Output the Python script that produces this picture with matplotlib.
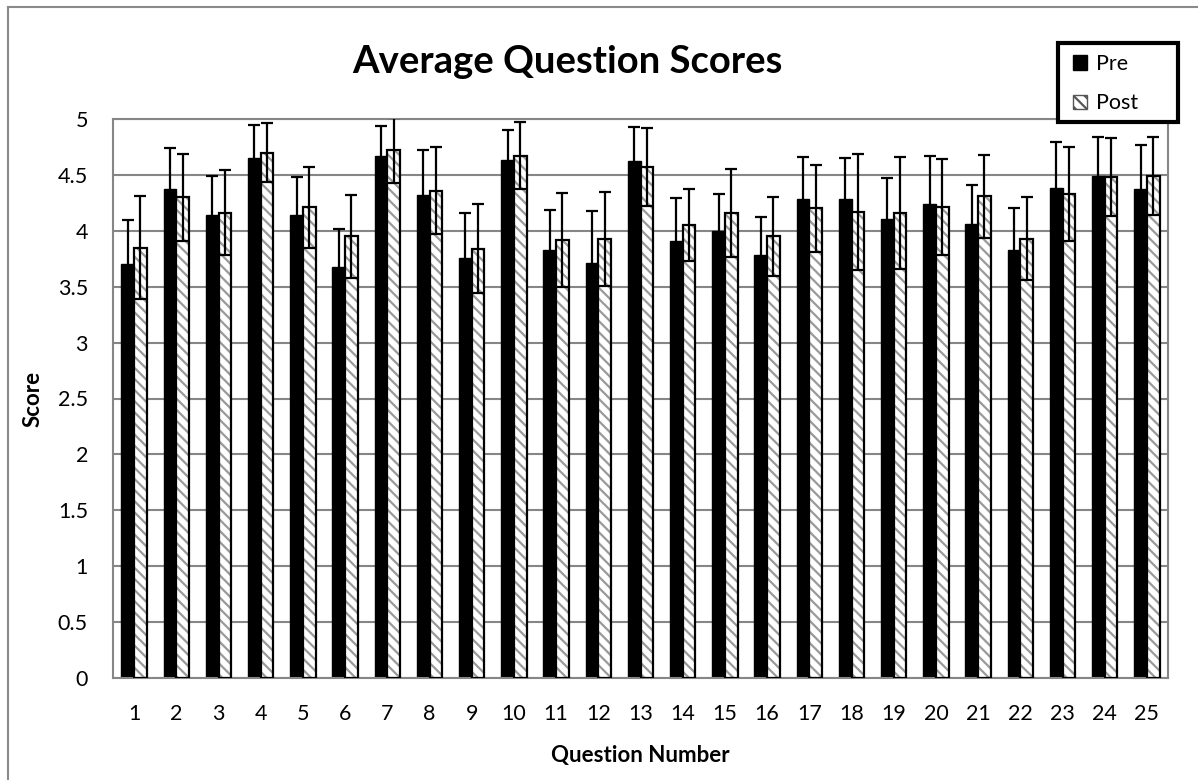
import numpy as np
import matplotlib
matplotlib.use("Agg")
import matplotlib.pyplot as plt
from matplotlib.patches import Patch, Rectangle
from matplotlib.lines import Line2D

questions = list(range(1, 26))
pre = [3.70, 4.37, 4.14, 4.65, 4.14, 3.68, 4.67, 4.32, 3.76, 4.63,
       3.83, 3.71, 4.62, 3.91, 4.00, 3.78, 4.28, 4.28, 4.11, 4.24,
       4.06, 3.83, 4.38, 4.49, 4.37]
pre_err = [0.40, 0.37, 0.35, 0.30, 0.34, 0.34, 0.27, 0.40, 0.40, 0.27,
           0.36, 0.47, 0.31, 0.38, 0.33, 0.34, 0.38, 0.37, 0.36, 0.43,
           0.35, 0.37, 0.41, 0.35, 0.40]
post = [3.85, 4.30, 4.16, 4.70, 4.21, 3.95, 4.72, 4.36, 3.84, 4.67,
        3.92, 3.93, 4.57, 4.05, 4.16, 3.95, 4.20, 4.17, 4.16, 4.21,
        4.31, 3.93, 4.33, 4.48, 4.49]
post_err = [0.46, 0.39, 0.38, 0.26, 0.36, 0.37, 0.29, 0.39, 0.40, 0.30,
            0.42, 0.42, 0.35, 0.32, 0.39, 0.35, 0.39, 0.52, 0.50, 0.43,
            0.37, 0.37, 0.42, 0.35, 0.35]

plt.rcParams['font.family'] = ['Lato', 'DejaVu Sans']
plt.rcParams['hatch.linewidth'] = 1.6

W, H = 1198, 780
fig = plt.figure(figsize=(W / 100, H / 100), dpi=100)
ax = fig.add_axes([113 / W, 1 - 678 / H, (1168 - 113) / W, (678 - 119) / H])

x = np.arange(len(questions))
w = 0.3
grid_c = '#868686'

ax.bar(x - w / 2, pre, w, color='black', edgecolor='black', linewidth=1, zorder=2)
ax.bar(x + w / 2, post, w, color='white', edgecolor='#9a9a9a', hatch='\\\\\\',
       linewidth=0, zorder=2)
ax.bar(x + w / 2, post, w, fill=False, edgecolor='black', linewidth=1.6, zorder=3)

ax.errorbar(x - w / 2, pre, yerr=pre_err, fmt='none', ecolor='black',
            elinewidth=1.6, capsize=4.3, capthick=1.6, zorder=4)
ax.errorbar(x + w / 2, post, yerr=post_err, fmt='none', ecolor='black',
            elinewidth=1.6, capsize=4.3, capthick=1.6, zorder=4)

ax.set_xlim(-0.5, len(questions) - 0.5)
ax.set_ylim(0, 5)
ax.set_yticks(np.arange(0, 5.01, 0.5))
ax.set_yticklabels(['0', '0.5', '1', '1.5', '2', '2.5', '3', '3.5', '4', '4.5', '5'])
ax.set_xticks(x)
ax.set_xticklabels([str(q) for q in questions])
ax.tick_params(length=0, labelsize=15.5)
ax.tick_params(axis='x', pad=19)
ax.tick_params(axis='y', pad=18)
ax.yaxis.grid(True, color=grid_c, linewidth=1.5, zorder=0)
ax.set_axisbelow(True)
for s in ax.spines.values():
    s.set_color(grid_c)
    s.set_linewidth(1.5)

ax.set_ylabel('Score', fontsize=16, fontweight='bold', labelpad=10)
ax.set_xlabel('Question Number', fontsize=16, fontweight='bold', labelpad=15)
fig.text(567 / W, 1 - 73 / H, 'Average Question Scores', ha='center', va='baseline',
         fontsize=27.5, fontweight='bold')

# legend box (drawn separately so its padding matches)
fig.add_artist(Rectangle((1058 / W, 1 - 122 / H), 120 / W, 79 / H,
                         transform=fig.transFigure, facecolor='white',
                         edgecolor='black', linewidth=3, zorder=4))
handles = [Patch(facecolor='black', edgecolor='black'),
           Patch(facecolor='white', edgecolor='#555555', hatch='\\\\\\')]
leg = fig.legend(handles, ['Pre', 'Post'], loc='upper left',
                 bbox_to_anchor=(1073 / W, 1 - 54 / H), fontsize=15.5,
                 frameon=False, handlelength=0.65, handleheight=0.65,
                 handletextpad=0.4, labelspacing=0.9, borderpad=0,
                 borderaxespad=0)
leg.set_zorder(5)

# outer chart border (left and top visible)
fig.add_artist(Line2D([8 / W, 8 / W], [0, 1 - 7 / H], color='#8a8a8a', linewidth=1.5))
fig.add_artist(Line2D([8 / W, 1], [1 - 7 / H, 1 - 7 / H], color='#8a8a8a', linewidth=1.5))

fig.savefig('out.png', dpi=100)
